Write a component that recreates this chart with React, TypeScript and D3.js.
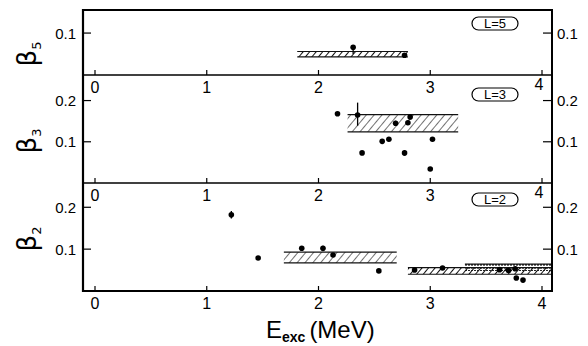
import * as d3 from 'd3'

// x ticks (MeV) and y ticks per panel
const xTicks = [0, 1, 2, 3, 4]
const b5Ticks = [0.1]
const b3Ticks = [0.1, 0.2]
const b2Ticks = [0.1, 0.2]

// points: [E, beta, errDown, errUp]
const b5Points: [number, number, number, number][] = [
  [2.31, 0.066, 0.016, 0.004],
  [2.77, 0.047, 0, 0],
]
const b3Points: [number, number, number, number][] = [
  [2.17, 0.168, 0, 0],
  [2.35, 0.165, 0.026, 0.03],
  [2.39, 0.073, 0.004, 0.004],
  [2.57, 0.101, 0, 0],
  [2.63, 0.106, 0.005, 0.005],
  [2.69, 0.145, 0.006, 0.006],
  [2.77, 0.073, 0.007, 0.007],
  [2.80, 0.146, 0.004, 0.004],
  [2.82, 0.16, 0.006, 0.006],
  [3.00, 0.034, 0, 0],
  [3.02, 0.106, 0.005, 0.005],
]
const b2Points: [number, number, number, number][] = [
  [1.22, 0.182, 0.009, 0.009],
  [1.46, 0.079, 0, 0],
  [1.85, 0.102, 0.004, 0.004],
  [2.04, 0.102, 0.007, 0.006],
  [2.13, 0.086, 0, 0],
  [2.54, 0.048, 0, 0],
  [2.86, 0.05, 0, 0],
  [3.11, 0.055, 0, 0],
  [3.62, 0.051, 0, 0],
  [3.70, 0.049, 0, 0],
  [3.76, 0.053, 0, 0],
  [3.77, 0.031, 0, 0],
  [3.83, 0.026, 0, 0],
]

// bands: [E start, E end, beta low, beta high, pattern]
const b5Bands: [number, number, number, number, string][] = [
  [1.81, 2.8, 0.043, 0.056, 'hatchDense'],
]
const b3Bands: [number, number, number, number, string][] = [
  [2.26, 3.25, 0.124, 0.166, 'hatch'],
]
const b2Bands: [number, number, number, number, string][] = [
  [1.69, 2.7, 0.067, 0.093, 'hatch'],
  [2.8, 4.09, 0.04, 0.056, 'hatchDense'],
  [3.31, 4.09, 0.048, 0.064, 'dots'],
]

const W = 588
const H = 346
const left = 83
const right = 552
const font = 'Liberation Sans, Arial, sans-serif'

const x = d3.scaleLinear().domain([0, 4]).range([95, 542])

type Panel = {
  key: string
  sub: string
  top: number
  bottom: number
  max: number
  ticks: number[]
  points: [number, number, number, number][]
  bands: [number, number, number, number, string][]
  legend: string
  legendY: number
  labelY: number
}

const panels: Panel[] = [
  { key: 'b5', sub: '5', top: 10, bottom: 75, max: 0.155, ticks: b5Ticks, points: b5Points, bands: b5Bands, legend: 'L=5', legendY: 17, labelY: 54 },
  { key: 'b3', sub: '3', top: 75, bottom: 183, max: 0.262, ticks: b3Ticks, points: b3Points, bands: b3Bands, legend: 'L=3', legendY: 88, labelY: 141 },
  { key: 'b2', sub: '2', top: 183, bottom: 291, max: 0.258, ticks: b2Ticks, points: b2Points, bands: b2Bands, legend: 'L=2', legendY: 193, labelY: 239 },
]

export default function App() {
  return (
    <svg width={W} height={H} style={{ position: 'absolute', left: 0, top: 0, background: '#fff' }} fontFamily={font}>
      <defs>
        <pattern id="hatch" patternUnits="userSpaceOnUse" width="6" height="6" patternTransform="rotate(40)">
          <line x1="0" y1="0" x2="0" y2="6" stroke="#111" strokeWidth="1.2" />
        </pattern>
        <pattern id="hatchDense" patternUnits="userSpaceOnUse" width="5" height="5" patternTransform="rotate(40)">
          <line x1="0" y1="0" x2="0" y2="5" stroke="#111" strokeWidth="2" />
        </pattern>
        <pattern id="dots" patternUnits="userSpaceOnUse" width="3" height="3">
          <rect x="0" y="0" width="2" height="1.6" fill="#111" />
        </pattern>
      </defs>
      {panels.map(p => {
        const y = d3.scaleLinear().domain([0, p.max]).range([p.bottom, p.top])
        return (
          <g key={p.key}>
            {/* bands */}
            {p.bands.map((b, i) => (
              <g key={i}>
                <rect x={x(b[0])} y={y(b[3])} width={Math.min(x(b[1]), right) - x(b[0])} height={y(b[2]) - y(b[3])}
                  fill={`url(#${b[4]})`} />
                <line x1={x(b[0])} x2={Math.min(x(b[1]), right)} y1={y(b[3])} y2={y(b[3])} stroke="#111" strokeWidth={1.2} />
                {b[4] !== 'dots' && (
                  <line x1={x(b[0])} x2={Math.min(x(b[1]), right)} y1={y(b[2])} y2={y(b[2])} stroke="#111" strokeWidth={1.2} />
                )}
              </g>
            ))}
            {/* points */}
            {p.points.map((d, i) => (
              <g key={i}>
                {(d[2] > 0 || d[3] > 0) && (
                  <line x1={x(d[0])} x2={x(d[0])} y1={y(d[1] - d[2])} y2={y(d[1] + d[3])} stroke="#000" strokeWidth={1.3} />
                )}
                <circle cx={x(d[0])} cy={y(d[1])} r={2.8} fill="#000" />
              </g>
            ))}
            {/* x ticks (inside, at panel bottom) */}
            {xTicks.map(t => (
              <g key={t}>
                <line x1={x(t)} x2={x(t)} y1={p.bottom} y2={p.bottom - 5} stroke="#000" strokeWidth={1.2} />
                <text x={x(t) + (t === 4 && p.key !== 'b2' ? -3 : 0)} y={p.bottom + (t === 4 && p.key !== 'b2' ? 15 : 18)}
                  textAnchor="middle" fontSize={16}>{t}</text>
              </g>
            ))}
            {/* y ticks both sides */}
            {p.ticks.map(t => (
              <g key={t}>
                <line x1={left} x2={left + 8} y1={y(t)} y2={y(t)} stroke="#000" strokeWidth={1.2} />
                <line x1={right - 9} x2={right} y1={y(t)} y2={y(t)} stroke="#000" strokeWidth={1.2} />
                <text x={76} y={y(t) + 5.5} textAnchor="end" fontSize={15}>{t.toFixed(1)}</text>
                <text x={557} y={y(t) + 5.5} textAnchor="start" fontSize={15}>{t.toFixed(1)}</text>
              </g>
            ))}
            {/* legend box */}
            <rect x={472} y={p.legendY} width={46} height={13} rx={6.5}
              fill="#fff" stroke="#000" strokeWidth={1.2} />
            <text x={495} y={p.legendY + 11} textAnchor="middle" fontSize={13}>
              {p.legend}
            </text>
            {/* y label, rotated */}
            <text x={36} y={p.labelY} transform={`rotate(-90 36 ${p.labelY})`} textAnchor="middle"
              fontSize={26} fontFamily="DejaVu Sans, sans-serif">
              β<tspan fontSize={13} dy={5}>{p.sub}</tspan>
            </text>
            <line x1={left} x2={right} y1={p.bottom} y2={p.bottom} stroke="#000" strokeWidth={p.key === 'b2' ? 2.2 : 1.5} />
          </g>
        )
      })}
      {/* frame */}
      <line x1={left} x2={right} y1={10} y2={10} stroke="#000" strokeWidth={1.8} />
      <line x1={left} x2={left} y1={9} y2={292} stroke="#000" strokeWidth={2.2} />
      <line x1={right} x2={right} y1={9} y2={292} stroke="#000" strokeWidth={2} />
      {/* x label */}
      <text x={266} y={338} fontSize={24}>
        E<tspan fontSize={14} fontWeight="bold" dy={4}>exc</tspan>
        <tspan dy={-4} dx={4}>(MeV)</tspan>
      </text>
    </svg>
  )
}
